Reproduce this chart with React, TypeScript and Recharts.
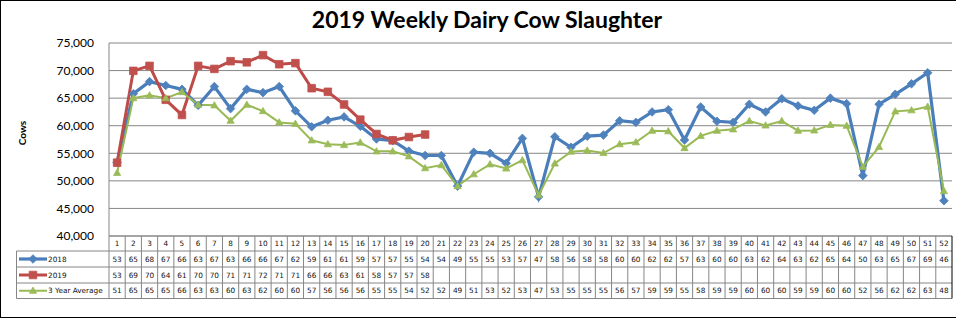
import { CartesianGrid, Line, LineChart, XAxis, YAxis } from "recharts";

const weeks = [
  "1", "2", "3", "4", "5", "6", "7", "8", "9", "10", "11", "12", "13",
  "14", "15", "16", "17", "18", "19", "20", "21", "22", "23", "24", "25", "26",
  "27", "28", "29", "30", "31", "32", "33", "34", "35", "36", "37", "38", "39",
  "40", "41", "42", "43", "44", "45", "46", "47", "48", "49", "50", "51", "52",
];

const cows2018 = [
  53300, 65800, 68000, 67300, 66600, 63700, 67100, 63100, 66600, 66000, 67100, 62700, 59800,
  61000, 61600, 59900, 57600, 57300, 55400, 54600, 54600, 49050, 55200, 55000, 53200, 57700,
  47100, 58000, 56100, 58100, 58300, 60900, 60600, 62500, 62900, 57400, 63400, 60800, 60600,
  63900, 62500, 64900, 63600, 62800, 65000, 64000, 50950, 63900, 65700, 67600, 69600, 46400,
];

const cows2019 = [
  53300, 69950, 70850, 64700, 61950, 70850, 70300, 71700, 71500, 72800, 71150, 71350, 66800,
  66150, 63850, 61100, 58500, 57350, 57950, 58400, null, null, null, null, null, null,
  null, null, null, null, null, null, null, null, null, null, null, null, null,
  null, null, null, null, null, null, null, null, null, null, null, null, null,
];

const threeYearAvg = [
  51450, 65000, 65500, 65000, 66100, 63800, 63700, 60900, 63800, 62650, 60600, 60350, 57350,
  56650, 56500, 56950, 55350, 55350, 54450, 52300, 52850, 49050, 51200, 53000, 52250, 53750,
  47400, 53150, 55300, 55500, 55050, 56650, 57000, 59100, 59000, 55950, 58150, 59100, 59350,
  60850, 60050, 60850, 59100, 59150, 60150, 60000, 52550, 56150, 62600, 62800, 63450, 48150,
];

const yTicks = [40000, 45000, 50000, 55000, 60000, 65000, 70000, 75000];

type Shape = "diamond" | "square" | "triangle";

const series: { key: string; name: string; values: (number | null)[]; line: string; fill: string; width: number; shape: Shape }[] = [
  { key: "y2018", name: "2018", values: cows2018, line: "#4A7EBB", fill: "#4F81BD", width: 3.2, shape: "diamond" },
  { key: "y2019", name: "2019", values: cows2019, line: "#BE4B48", fill: "#C0504D", width: 3, shape: "square" },
  { key: "avg", name: "3 Year Average", values: threeYearAvg, line: "#98B954", fill: "#9BBB59", width: 2, shape: "triangle" },
];

const data = weeks.map((week, i) => ({
  week,
  y2018: cows2018[i],
  y2019: cows2019[i],
  avg: threeYearAvg[i],
}));

// chart geometry
const W = 956;
const H = 318;
const PLOT_LEFT = 109;
const PLOT_RIGHT = 952;
const PLOT_TOP = 43;
const PLOT_BOTTOM = 236;
const COL = (PLOT_RIGHT - PLOT_LEFT) / weeks.length;
const ROW_EDGES = [PLOT_BOTTOM, 251, 267, 283, 298.5];
const LEGEND_LEFT = 16.5;
const GRID = "#868686";

const tableFont = { fontFamily: "DejaVu Sans", fontSize: 7.3, fill: "#111" };

function markerPath(shape: Shape, cx: number, cy: number) {
  if (shape === "diamond") return `M${cx},${cy - 4.3}L${cx + 4.3},${cy}L${cx},${cy + 4.3}L${cx - 4.3},${cy}Z`;
  if (shape === "square") return `M${cx - 3.8},${cy - 3.8}h7.6v7.6h-7.6Z`;
  return `M${cx},${cy - 3.7}L${cx + 3.6},${cy + 2.6}L${cx - 3.6},${cy + 2.6}Z`;
}

const renderDot = (shape: Shape, color: string) => (p: any) => {
  if (p.cx == null || p.cy == null || p.value == null || Number.isNaN(p.cy)) return <g key={p.index} />;
  return <path key={p.index} d={markerPath(shape, p.cx, p.cy)} fill={color} stroke={color} strokeWidth={0.8} />;
};

const rowMid = (r: number) => (ROW_EDGES[r] + ROW_EDGES[r + 1]) / 2;

// outer lines of the data table plus the legend column
function TableFrame() {
  return (
    <g>
      {ROW_EDGES.slice(1).map((y) => (
        <line key={y} x1={LEGEND_LEFT} x2={PLOT_RIGHT} y1={y} y2={y} stroke={GRID} />
      ))}
      <line x1={LEGEND_LEFT} x2={LEGEND_LEFT} y1={ROW_EDGES[1]} y2={ROW_EDGES[4]} stroke={GRID} />
      {series.map((s, r) => {
        const y = rowMid(r + 1);
        return (
          <g key={s.key}>
            <line x1={19} x2={47} y1={y} y2={y} stroke={s.line} strokeWidth={s.width} />
            <path d={markerPath(s.shape, 33, y)} fill={s.fill} stroke={s.fill} strokeWidth={0.8} />
            <text x={48} y={y} dominantBaseline="central" style={tableFont}>{s.name}</text>
          </g>
        );
      })}
    </g>
  );
}

// one column of the data table, hung under each week tick
function TableColumn(props: any) {
  const { x, payload } = props;
  const i = weeks.indexOf(String(payload.value));
  if (i < 0) return null;
  const cells = [
    weeks[i],
    ...series.map((s) => (s.values[i] == null ? "" : String(Math.floor((s.values[i] as number) / 1000)))),
  ];
  return (
    <g>
      {i === 0 && <TableFrame />}
      <line x1={x - COL / 2} x2={x - COL / 2} y1={ROW_EDGES[0]} y2={ROW_EDGES[4]} stroke={GRID} />
      {i === weeks.length - 1 && (
        <line x1={x + COL / 2} x2={x + COL / 2} y1={ROW_EDGES[0]} y2={ROW_EDGES[4]} stroke="#000" />
      )}
      {cells.map((t, r) => (
        <text key={r} x={x} y={rowMid(r)} textAnchor="middle" dominantBaseline="central" style={tableFont}>
          {t}
        </text>
      ))}
    </g>
  );
}

export default function App() {
  return (
    <div style={{ position: "absolute", left: 0, top: 0, width: W, height: H, background: "#fff" }}>
      <div
        style={{
          position: "absolute",
          left: 487,
          top: 5,
          transform: "translateX(-50%)",
          whiteSpace: "nowrap",
          fontFamily: "Lato",
          fontWeight: 700,
          fontSize: 23,
          color: "#000",
        }}
      >
        2019 Weekly Dairy Cow Slaughter
      </div>
      <LineChart
        width={W}
        height={H}
        data={data}
        margin={{ top: PLOT_TOP, right: W - PLOT_RIGHT, bottom: 0, left: 0 }}
      >
        <CartesianGrid horizontal vertical={false} stroke={GRID} />
        <XAxis
          dataKey="week"
          type="category"
          interval={0}
          height={H - PLOT_BOTTOM}
          padding={{ left: COL / 2, right: COL / 2 }}
          axisLine={{ stroke: GRID }}
          tickLine={false}
          tickSize={0}
          tickMargin={0}
          tick={<TableColumn />}
        />
        <XAxis
          xAxisId="top"
          orientation="top"
          dataKey="week"
          height={0}
          padding={{ left: COL / 2, right: COL / 2 }}
          axisLine={{ stroke: "#000" }}
          tickLine={false}
          tick={false}
        />
        <YAxis
          width={PLOT_LEFT}
          domain={[40000, 75000]}
          ticks={yTicks}
          interval={0}
          axisLine={{ stroke: GRID }}
          tickLine={false}
          tickSize={0}
          tickMargin={15}
          tickFormatter={(v: number) => v.toLocaleString("en-US")}
          tick={{ fontFamily: "Lato", fontSize: 12, fill: "#000" }}
          label={() => (
            <text
              x={22}
              y={133}
              transform="rotate(-90 22 133)"
              textAnchor="middle"
              dominantBaseline="central"
              style={{ fontFamily: "Lato", fontWeight: 700, fontSize: 10, fill: "#000" }}
            >
              Cows
            </text>
          )}
        />
        <YAxis
          yAxisId="right"
          orientation="right"
          width={0}
          domain={[40000, 75000]}
          axisLine={{ stroke: "#000" }}
          tickLine={false}
          tick={false}
        />
        {series.map((s) => (
          <Line
            key={s.key}
            dataKey={s.key}
            name={s.name}
            type="linear"
            stroke={s.line}
            strokeWidth={s.width}
            dot={renderDot(s.shape, s.fill)}
            activeDot={false}
            isAnimationActive={false}
          />
        ))}
      </LineChart>
      <div
        style={{
          position: "absolute",
          left: 0,
          top: 0,
          width: W,
          height: H,
          boxSizing: "border-box",
          borderLeft: "1px solid #000",
          borderTop: "1px solid #000",
          borderBottom: "1px solid #000",
          pointerEvents: "none",
        }}
      />
    </div>
  );
}
